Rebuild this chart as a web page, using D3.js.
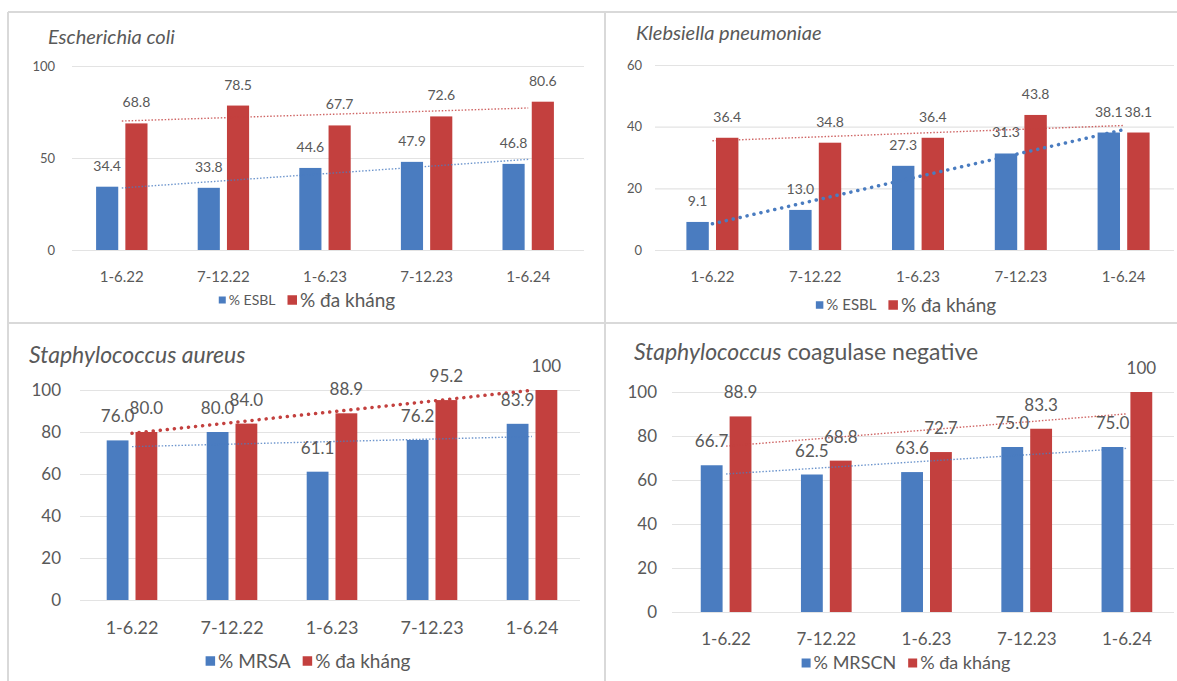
<!DOCTYPE html>
<html><head><meta charset="utf-8">
<script src="https://cdn.jsdelivr.net/npm/d3@7"></script>
<style>body{margin:0;background:#fff}svg{display:block}text{font-family:Lato,"Liberation Sans",sans-serif}</style>
</head><body><svg id="c" width="1177" height="681"></svg>
<script>
// ---- data ----
const categories = ["1-6.22","7-12.22","1-6.23","7-12.23","1-6.24"];
const ecoliESBL = [34.4,33.8,44.6,47.9,46.8];
const ecoliMDR  = [68.8,78.5,67.7,72.6,80.6];
const kpnESBL   = [9.1,13.0,27.3,31.3,38.1];
const kpnMDR    = [36.4,34.8,36.4,43.8,38.1];
const saMRSA    = [76.0,80.0,61.1,76.2,83.9];
const saMDR     = [80.0,84.0,88.9,95.2,100];
const scnMRSCN  = [66.7,62.5,63.6,75.0,75.0];
const scnMDR    = [88.9,68.8,72.7,83.3,100];
const ecoliTicks = [0,50,100];
const kpnTicks   = [0,20,40,60];
const staphTicks = [0,20,40,60,80,100];
const mdrName = "% đa kháng";

const BLUE = "#4a7cc0", RED = "#c3403e", TXT = "#595959";
const svg = d3.select("#c");

// panel frame lines
const frame = svg.append("g").attr("stroke","#d9d9d9").attr("stroke-width",2);
frame.append("line").attr("x1",8).attr("x2",8).attr("y1",12).attr("y2",681);
frame.append("line").attr("x1",8).attr("x2",1177).attr("y1",12).attr("y2",12);
frame.append("line").attr("x1",605).attr("x2",605).attr("y1",12).attr("y2",681);
frame.append("line").attr("x1",8).attr("x2",1177).attr("y1",323).attr("y2",323);

const panels = [
 {title:[["Escherichia coli",true]], tx:48, ty:44, tsize:20,
  x0:71, x1:579, y0:250, y1:66, yMax:100, ticks:ecoliTicks, tickX:55, gx0:72, gx1:584, tickSize:13,
  catY:277, catSize:15, lblSize:14, lblOff:16, legY:300, legCX:307, legSizes:[14,19],
  series:[ecoliESBL, ecoliMDR], names:["% ESBL", mdrName], trendW:[1.4,1.4]},
 {title:[["Klebsiella pneumoniae",true]], tx:636, ty:40, tsize:20,
  x0:661, x1:1175, y0:250, y1:65, yMax:60, ticks:kpnTicks, tickX:642, gx0:655, gx1:1174, tickSize:13,
  catY:277, catSize:15, lblSize:14, lblOff:16, legY:305, legCX:906, legSizes:[15,19],
  series:[kpnESBL, kpnMDR], names:["% ESBL", mdrName], trendW:[3.5,1.4]},
 {title:[["Staphylococcus aureus",true]], tx:29, ty:363, tsize:23,
  x0:82, x1:582, y0:600, y1:390, yMax:100, ticks:staphTicks, tickX:61, gx0:80, gx1:580, tickSize:17,
  catY:628, catSize:18, lblSize:17, lblOff:18, legY:661, legCX:308, legSizes:[19,19],
  series:[saMRSA, saMDR], names:["% MRSA", mdrName], trendW:[1.4,3.5]},
 {title:[["Staphylococcus",true],[" coagulase negative",false]], tx:634, ty:360, tsize:23,
  x0:676, x1:1177, y0:612, y1:392, yMax:100, ticks:staphTicks, tickX:657, gx0:672, gx1:1174, tickSize:17,
  catY:639, catSize:17, lblSize:17, lblOff:18, legY:663, legCX:906, legSizes:[18,18],
  series:[scnMRSCN, scnMDR], names:["% MRSCN", mdrName], trendW:[1.4,1.4]}
];

const fmt = v => v === 100 ? "100" : v.toFixed(1);
const colors = [BLUE, RED];

function regress(vals){
  const xs = vals.map((_,i)=>i+1);
  const mx = d3.mean(xs), my = d3.mean(vals);
  const b = d3.sum(xs.map((x,i)=>(x-mx)*(vals[i]-my))) / d3.sum(xs.map(x=>(x-mx)**2));
  return x => my + b*(x-mx);
}

panels.forEach(p => {
  const g = svg.append("g");
  const x = d3.scaleBand().domain(categories).range([p.x0, p.x1]);
  const y = d3.scaleLinear().domain([0, p.yMax]).range([p.y0, p.y1]);
  const bw = x.bandwidth(), barW = bw*0.218, gap = bw*0.07;

  // title
  const t = g.append("text").attr("x",p.tx).attr("y",p.ty).attr("font-size",p.tsize).attr("fill",TXT);
  p.title.forEach(([s,it]) => t.append("tspan").text(s).attr("font-style", it ? "italic" : "normal"));

  // y axis with gridlines
  const ya = g.append("g").attr("transform",`translate(${p.gx0},0)`)
    .call(d3.axisLeft(y).tickValues(p.ticks).tickFormat(d3.format("d"))
      .tickSize(-(p.gx1-p.gx0)).tickPadding(p.gx0-p.tickX));
  ya.select(".domain").remove();
  ya.selectAll(".tick line").attr("stroke","#e3e3e3").attr("stroke-width",1.2);
  ya.selectAll(".tick text").attr("fill",TXT).attr("font-size",p.tickSize).attr("font-family","Lato");

  // x axis labels
  const xa = g.append("g").attr("transform",`translate(0,${p.catY})`)
    .call(d3.axisBottom(x).tickSize(0).tickPadding(0));
  xa.select(".domain").remove();
  xa.selectAll(".tick text").attr("y",0).attr("dy","0.35em").attr("fill",TXT)
    .attr("font-size",p.catSize).attr("font-family","Lato");

  // bars
  p.series.forEach((vals, si) => {
    const off = si === 0 ? -gap/2 - barW : gap/2;
    g.selectAll(null).data(vals).join("rect")
      .attr("x",(d,i)=>x(categories[i]) + bw/2 + off)
      .attr("y",d=>y(d)).attr("width",barW).attr("height",d=>y(0)-y(d))
      .attr("fill",colors[si]);
  });

  // trendlines
  p.series.forEach((vals, si) => {
    const f = regress(vals);
    const thick = p.trendW[si] > 2;
    g.append("line")
      .attr("x1", x(categories[0]) + bw/2).attr("y1", y(f(1)))
      .attr("x2", x(categories[4]) + bw/2).attr("y2", y(f(5)))
      .attr("stroke", colors[si]).attr("stroke-opacity", thick ? 1 : 0.8)
      .attr("stroke-width", p.trendW[si])
      .attr("stroke-linecap", thick ? "round" : "butt")
      .attr("stroke-dasharray", thick ? "0.1,7" : "1.5,1.8");
  });

  // data labels
  p.series.forEach((vals, si) => {
    const off = si === 0 ? -gap/2 - barW/2 : gap/2 + barW/2;
    g.selectAll(null).data(vals).join("text")
      .attr("x",(d,i)=>x(categories[i]) + bw/2 + off)
      .attr("y",d=>y(d) - p.lblOff)
      .attr("text-anchor","middle").attr("font-size",p.lblSize).attr("fill",TXT)
      .text(fmt);
  });

  // legend
  const lg = g.append("g");
  let cx = 0;
  p.names.forEach((n, si) => {
    const sw = p.legSizes[si]*0.5;
    lg.append("rect").attr("x",cx).attr("y",-sw/2).attr("width",sw).attr("height",sw).attr("fill",colors[si]);
    const tt = lg.append("text").attr("x",cx+sw+3).attr("y",0).attr("dy","0.35em")
      .attr("font-size",p.legSizes[si]).attr("fill",TXT).text(n);
    cx += sw + 3 + tt.node().getComputedTextLength() + 12;
  });
  const w = cx - 12;
  lg.attr("transform",`translate(${p.legCX - w/2},${p.legY})`);
});
</script></body></html>
